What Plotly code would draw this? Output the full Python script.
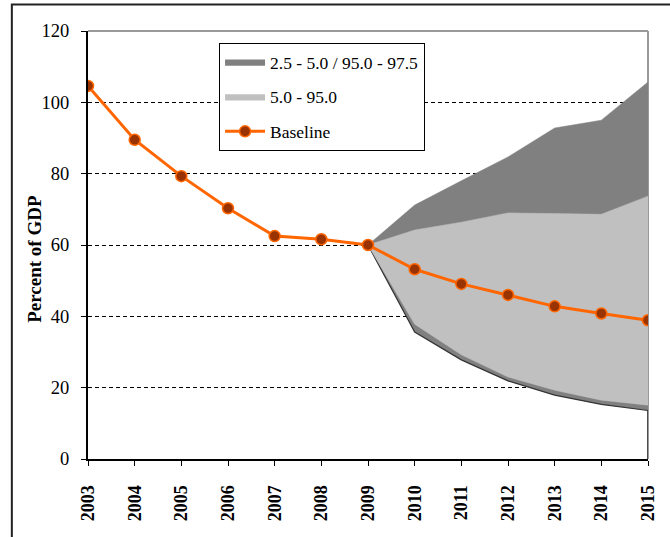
import plotly.graph_objects as go

years = list(range(2003, 2016))
baseline = [104.6, 89.5, 79.3, 70.3, 62.5, 61.6, 60.0, 53.2, 49.1, 46.0, 42.8, 40.8, 38.9]

fan_years = list(range(2009, 2016))
p975 = [60.0, 71.2, 78.0, 84.7, 92.8, 95.0, 105.7]
p950 = [60.0, 64.2, 66.4, 69.0, 68.8, 68.6, 73.7]
p050 = [60.0, 37.8, 29.2, 23.0, 19.3, 16.5, 15.1]
p025 = [60.0, 35.6, 27.8, 21.9, 17.9, 15.3, 13.6]

DARK = "#808080"
LIGHT = "#C0C0C0"
FONT = "Liberation Serif"

fig = go.Figure()

# outer dark band (2.5 - 97.5)
fig.add_trace(go.Scatter(x=fan_years, y=p025, mode="lines",
                         line=dict(color="#333333", width=1.2),
                         showlegend=False, hoverinfo="skip"))
fig.add_trace(go.Scatter(x=fan_years, y=p975, mode="lines", fill="tonexty",
                         fillcolor=DARK, line=dict(color=DARK, width=0.5),
                         name="2.5 - 5.0 / 95.0 - 97.5", legendgroup="a"))
# inner light band (5 - 95)
fig.add_trace(go.Scatter(x=fan_years, y=p050, mode="lines",
                         line=dict(color=LIGHT, width=0.5),
                         showlegend=False, hoverinfo="skip"))
fig.add_trace(go.Scatter(x=fan_years, y=p950, mode="lines", fill="tonexty",
                         fillcolor=LIGHT, line=dict(color=LIGHT, width=0.5),
                         name="5.0 - 95.0", legendgroup="b"))
# vertical edge at last year
fig.add_trace(go.Scatter(x=[fan_years[-1], fan_years[-1]], y=[0, p025[-1]],
                         mode="lines", line=dict(color="#333333", width=1.5),
                         showlegend=False, hoverinfo="skip"))
# baseline
fig.add_trace(go.Scatter(x=years, y=baseline, mode="lines+markers",
                         line=dict(color="#FF6600", width=3),
                         marker=dict(size=11, color="#993300",
                                     line=dict(color="#FF6600", width=1.5)),
                         name="Baseline", legendgroup="c"))

# plot frame (top and right, grey)
fig.add_shape(type="line", xref="paper", yref="paper", x0=0, x1=1, y0=1, y1=1,
              line=dict(color="#999999", width=2), layer="below")
fig.add_shape(type="line", xref="paper", yref="paper", x0=1, x1=1, y0=0, y1=1,
              line=dict(color="#999999", width=2), layer="below")
# outer chart frame
fig.add_shape(type="rect", xref="paper", yref="paper",
              x0=-0.136, x1=1.06, y0=-0.25, y1=1.062,
              line=dict(color="#222222", width=2), fillcolor="rgba(0,0,0,0)")

# y-axis title
fig.add_annotation(text="<b>Percent of GDP</b>", xref="paper", yref="paper",
                   x=-0.097, y=0.467, xanchor="center", yanchor="middle",
                   textangle=-90, showarrow=False,
                   font=dict(family=FONT, size=19, color="black"))

fig.update_layout(
    width=670, height=537,
    margin=dict(l=88, r=19, t=31, b=78),
    paper_bgcolor="white", plot_bgcolor="white",
    font=dict(family=FONT, size=18, color="black"),
    legend=dict(x=0.234, y=0.972, xanchor="left", yanchor="top",
                bgcolor="white", bordercolor="black", borderwidth=1,
                font=dict(family=FONT, size=17.5), itemwidth=40,
                tracegroupgap=9),
    xaxis=dict(range=[2003, 2015], tickmode="array", tickvals=years,
               ticktext=["<b>%d</b>" % y for y in years], tickangle=-90,
               tickfont=dict(family=FONT, size=18, color="black"),
               ticklabelstandoff=12,
               showgrid=False, zeroline=False,
               showline=True, linecolor="black", linewidth=2,
               ticks="outside", ticklen=5, tickcolor="black"),
    yaxis=dict(range=[0, 120], tickvals=[0, 20, 40, 60, 80, 100, 120],
               tickfont=dict(family=FONT, size=18.5, color="black"),
               ticklabelstandoff=8,
               showgrid=True, gridcolor="black", griddash="4px,3px", gridwidth=1,
               zeroline=False,
               showline=True, linecolor="black", linewidth=2,
               ticks="outside", ticklen=5, tickcolor="black"),
)

fig.write_html("out.html", config={"displayModeBar": False},
               post_script="document.body.style.margin='0';document.body.style.overflow='hidden';")
